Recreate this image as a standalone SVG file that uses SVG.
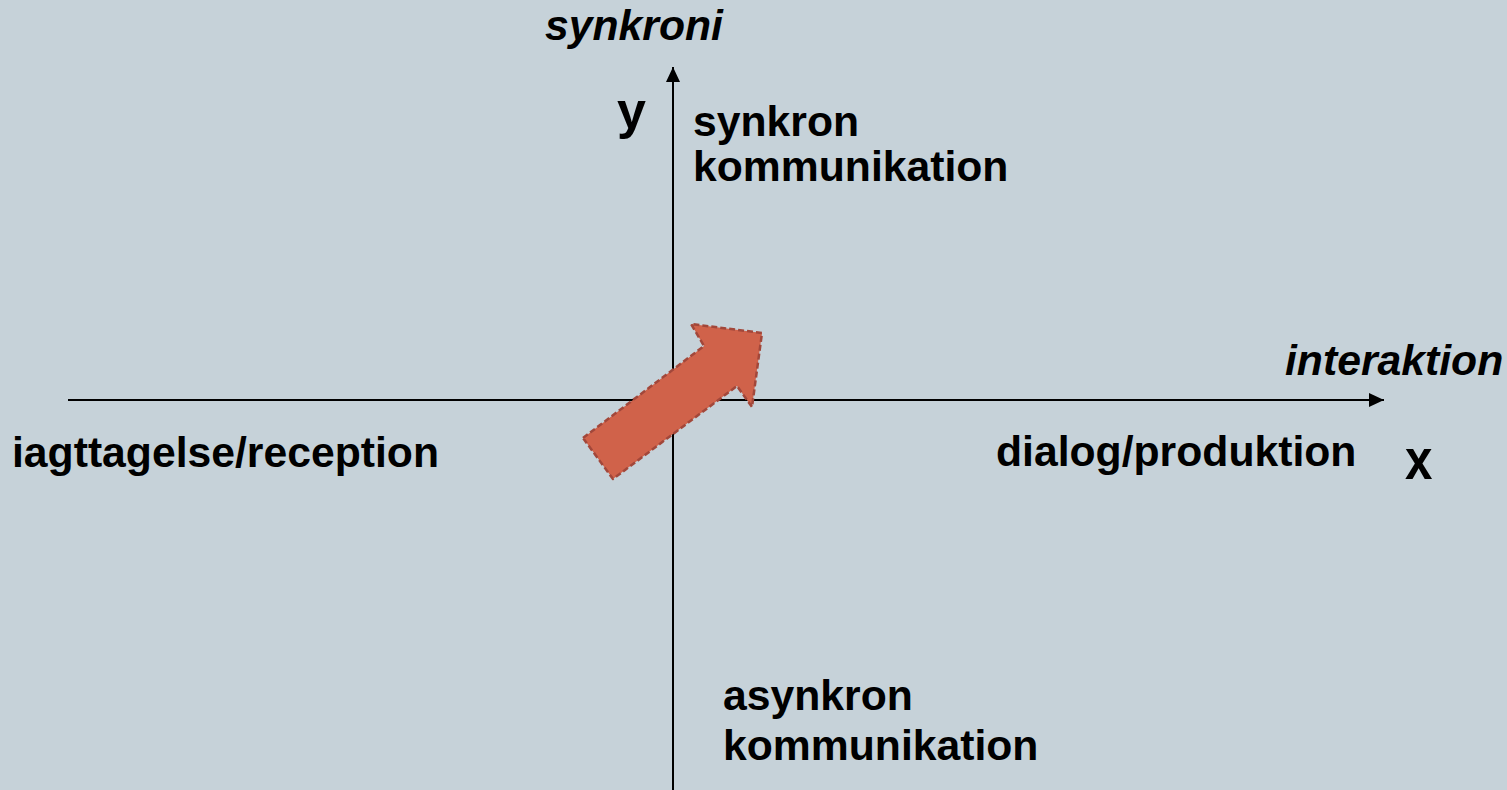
<svg xmlns="http://www.w3.org/2000/svg" width="1507" height="790" viewBox="0 0 1507 790">
<defs>
<style>
.t{font-family:"Liberation Sans",Arial,sans-serif;font-weight:bold;font-size:42.7px;fill:#000}
.i{font-style:italic}
.ax{stroke:#000;stroke-width:2;fill:none}
</style>
<marker id="ah" markerWidth="16" markerHeight="16" viewBox="0 0 16 16" refX="15" refY="8" orient="auto" markerUnits="userSpaceOnUse">
<path d="M0,1 L15,8 L0,15 Z" fill="#000"/>
</marker>
</defs>
<rect width="1507" height="790" fill="#C6D2D9"/>
<g id="connectors">
<line class="ax" x1="68" y1="400" x2="1384" y2="400" marker-end="url(#ah)"/>
<line class="ax" x1="673" y1="790" x2="673" y2="67" marker-end="url(#ah)"/>
</g>
<g id="arrow">
<path d="M583,438 L704,346 L691,324 L762,333 L752,407 L737,386 L613,479 Z" fill="#D0624A" stroke="#A2473A" stroke-width="2.5" stroke-dasharray="6,3" stroke-linejoin="round"/>
</g>
<g id="label-synkroni"><text class="t i" x="545" y="40">synkroni</text></g>
<g id="label-y"><text class="t" x="617" y="128" style="font-size:52px">y</text></g>
<g id="label-synkron"><text class="t"><tspan x="693" y="136">synkron</tspan><tspan x="693" y="181">kommunikation</tspan></text></g>
<g id="label-interaktion"><text class="t i" x="1285" y="375">interaktion</text></g>
<g id="label-iagttagelse"><text class="t" x="12" y="467">iagttagelse/reception</text></g>
<g id="label-dialog"><text class="t" x="996" y="466">dialog/produktion</text></g>
<g id="label-x"><text class="t" transform="translate(1405,479) scale(0.85,1)" style="font-size:58px">x</text></g>
<g id="label-asynkron"><text class="t"><tspan x="723" y="710">asynkron</tspan><tspan x="723" y="760">kommunikation</tspan></text></g>
</svg>
